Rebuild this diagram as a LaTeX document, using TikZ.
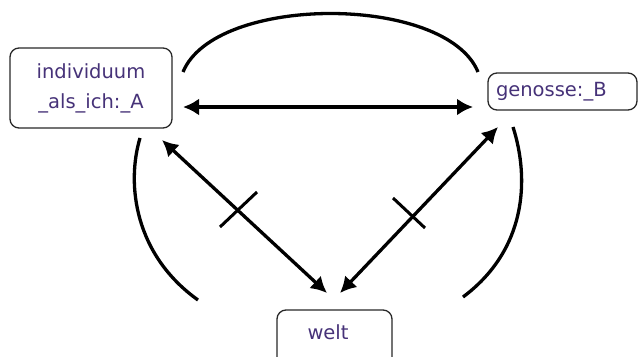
\documentclass[tikz,border=0pt]{standalone}
\usepackage{fontspec}
\setmainfont{DejaVu Sans}
\usetikzlibrary{arrows.meta}
\definecolor{txt}{RGB}{70,50,120}
\definecolor{frame}{RGB}{40,40,40}
\tikzset{
  box/.style={draw=frame, line width=1.3pt, rounded corners=9pt, inner sep=0pt, text=txt,
    font=\fontsize{19.5}{30}\selectfont, align=center},
  dbl/.style={line width=3.3pt, {Latex[length=16pt,width=17pt]}-{Latex[length=16pt,width=17pt]}},
  arcline/.style={line width=3.3pt},
  tick/.style={line width=3pt},
}
\begin{document}
\begin{tikzpicture}[x=1pt,y=-1pt]
\useasboundingbox (0,0) rectangle (642,356);
\clip (0,0) rectangle (642,356);
\node[box, minimum width=162pt, minimum height=80pt] (A) at (91,88) {individuum\\\_als\_ich:\_A};
\node[box, minimum width=149pt, minimum height=37pt, text width=139pt, align=left] (B) at (562.5,91.5) {\hspace*{3pt}genosse:\_B};
\node[box, minimum width=115pt, minimum height=60pt] (W) at (334.5,340) {};
\node[text=txt, font=\fontsize{19.5}{22}\selectfont] (Wt) at (328,332) {welt};
% arrow end points
\coordinate (hA) at (183,107);
\coordinate (hB) at (473,107);
\coordinate (dA) at (162,140);
\coordinate (dW1) at (327,293);
\coordinate (dB) at (498,127);
\coordinate (dW2) at (340,293);
\draw[dbl] (hA) -- (hB);
\draw[dbl] (dA) -- (dW1);
\draw[dbl] (dB) -- (dW2);
% ticks
\coordinate (t1a) at (220,227); \coordinate (t1b) at (257,192);
\coordinate (t2a) at (393,198); \coordinate (t2b) at (425,228);
\draw[tick] (t1a) -- (t1b);
\draw[tick] (t2a) -- (t2b);
% arcs
\coordinate (a1) at (183,72); \coordinate (a2) at (478,72);
\draw[arcline] (a1) .. controls (215,-6) and (446,-6) .. (a2);
\coordinate (l1) at (140,138); \coordinate (l2) at (198,300);
\draw[arcline] (l1) .. controls (126,185) and (135,255) .. (l2);
\coordinate (r1) at (513,127); \coordinate (r2) at (463,297);
\draw[arcline] (r1) .. controls (530,180) and (526,250) .. (r2);
\end{tikzpicture}
\end{document}
